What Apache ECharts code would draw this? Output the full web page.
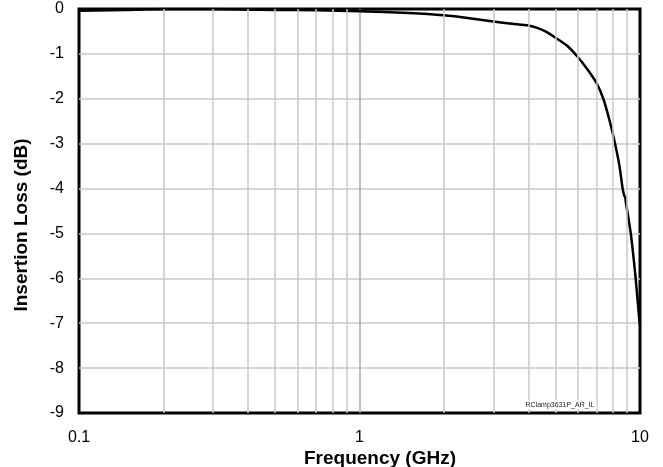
<!DOCTYPE html>
<html>
<head>
<meta charset="utf-8">
<script src="https://cdn.jsdelivr.net/npm/echarts@6/dist/echarts.min.js"></script>
<style>
  html, body { margin: 0; padding: 0; background: #fff; }
  #chart { width: 663px; height: 467px; }
</style>
</head>
<body>
<div id="chart"></div>
<script>
// Insertion loss sweep, frequency in GHz, loss in dB
const freqGHz = [0.1, 0.13, 0.17, 0.2, 0.3, 0.5, 0.7, 1, 1.5, 2, 2.5, 3, 3.5, 4, 4.3, 4.6, 5, 5.5, 6, 6.5, 7, 7.4, 7.8, 8.15, 8.45, 8.67, 8.78, 8.86, 8.9, 9.27, 9.65, 9.95, 10];
const lossDb = [-0.04, -0.03, -0.01, 0, 0, -0.02, -0.03, -0.05, -0.09, -0.14, -0.21, -0.28, -0.33, -0.37, -0.42, -0.5, -0.64, -0.82, -1.07, -1.35, -1.65, -2.0, -2.5, -3.0, -3.5, -4.0, -4.15, -4.2, -4.3, -5.0, -6.0, -6.95, -7.05];

// Minor log-decade gridlines
const minorFreqs = [0.2, 0.3, 0.4, 0.5, 0.6, 0.7, 0.8, 0.9, 2, 3, 4, 5, 6, 7, 8, 9];

const yTicks = { min: -9, max: 0, step: 1 };
const xTitle = 'Frequency (GHz)';
const yTitle = 'Insertion Loss (dB)';
const tagText = 'RClamp3631P_AR_IL';

const chart = echarts.init(document.getElementById('chart'), null, { renderer: 'canvas' });

const font = 'Liberation Sans, Arial, sans-serif';

chart.setOption({
  animation: false,
  backgroundColor: '#ffffff',
  grid: {
    left: 79, right: 23, top: 9, bottom: 54,
    show: true, borderColor: '#000', borderWidth: 3, backgroundColor: 'transparent'
  },
  xAxis: {
    type: 'log', logBase: 10, min: 0.1, max: 10,
    axisLine: { show: false },
    axisTick: { show: false },
    splitLine: {
      show: true, showMinLine: false, showMaxLine: false,
      lineStyle: { color: '#a9a9a9', width: 1.5 }
    },
    axisLabel: {
      margin: 17, fontSize: 16, color: '#000', fontFamily: font,
      formatter: v => String(v)
    }
  },
  yAxis: {
    type: 'value', min: yTicks.min, max: yTicks.max, interval: yTicks.step,
    axisLine: { show: false },
    axisTick: { show: false },
    splitLine: {
      show: true, showMinLine: false, showMaxLine: false,
      lineStyle: { color: '#c8c8c8', width: 1.5 }
    },
    axisLabel: { margin: 15, fontSize: 16, color: '#000', fontFamily: font }
  },
  series: [
    {
      type: 'line',
      z: 1,
      data: [],
      silent: true,
      markLine: {
        silent: true,
        symbol: 'none',
        label: { show: false },
        lineStyle: { color: '#c8c8c8', width: 1.5, type: 'solid' },
        data: minorFreqs.map(f => ({ xAxis: f }))
      }
    },
    {
      type: 'line',
      z: 3,
      data: freqGHz.map((f, i) => [f, lossDb[i]]),
      showSymbol: false,
      smooth: 0.2,
      lineStyle: { color: '#000', width: 2.5 }
    }
  ],
  graphic: [
    {
      type: 'text', x: 380, y: 459,
      style: {
        text: xTitle, font: 'bold 19px ' + font, fill: '#000',
        textAlign: 'center', textVerticalAlign: 'middle'
      }
    },
    {
      type: 'text', x: 22, y: 225, rotation: Math.PI / 2,
      style: {
        text: yTitle, font: 'bold 19px ' + font, fill: '#000',
        textAlign: 'center', textVerticalAlign: 'middle'
      }
    },
    {
      type: 'text', x: 560, y: 405, z: 100,
      style: {
        text: tagText, font: '7px ' + font, fill: '#222',
        textAlign: 'center', textVerticalAlign: 'middle',
        backgroundColor: '#fff', padding: [1, 2]
      }
    }
  ]
});
</script>
</body>
</html>
